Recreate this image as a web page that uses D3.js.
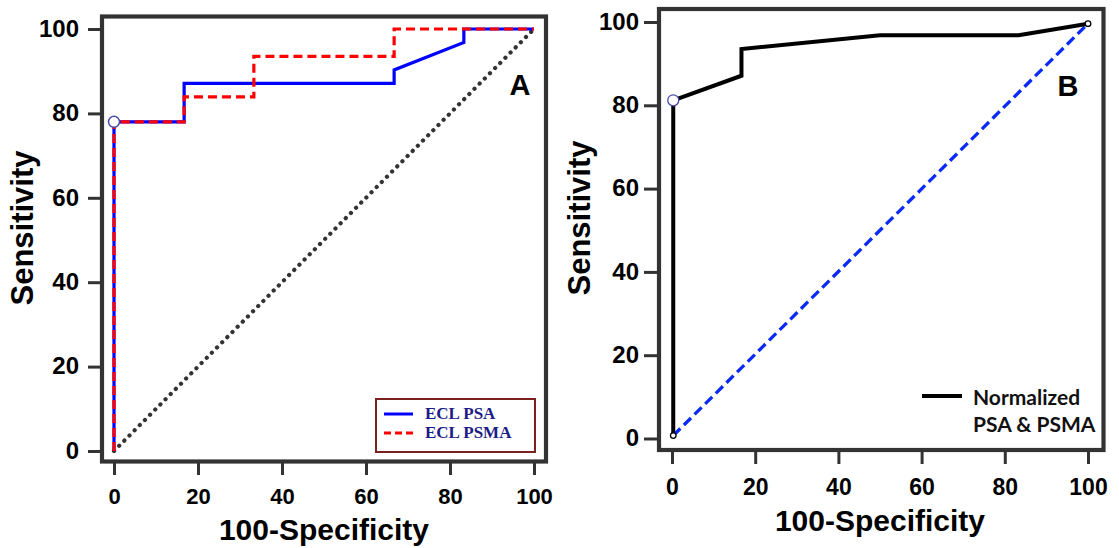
<!DOCTYPE html>
<html><head><meta charset="utf-8">
<script src="https://cdn.jsdelivr.net/npm/d3@7"></script>
<style>body{margin:0;background:#fff}svg{display:block}</style>
</head><body>
<svg id="c" width="1119" height="548"></svg>
<script>
// ---- data ----
const xTicks = [0, 20, 40, 60, 80, 100];
const yTicks = [0, 20, 40, 60, 80, 100];
const psaX  = [0, 0, 16.7, 16.7, 66.7, 66.7, 83.3, 83.3, 100];
const psaY  = [0, 78, 78, 87.1, 87.1, 90.3, 96.8, 100, 100];
const psmaX = [0, 0, 16.7, 16.7, 33.3, 33.3, 66.7, 66.7, 100];
const psmaY = [0, 78, 78, 83.9, 83.9, 93.5, 93.5, 100, 100];
const normX = [0.3, 0.3, 16.7, 16.7, 50, 83.3, 100];
const normY = [0.7, 81.2, 87.1, 93.5, 96.8, 96.8, 99.6];
const refAX = [0, 100], refAY = [0, 100];
const refBX = [0.3, 100], refBY = [0.7, 99.6];
const legendA = ["ECL PSA", "ECL PSMA"];
const legendB = ["Normalized", "PSA & PSMA"];
const xTitle = "100-Specificity", yTitle = "Sensitivity";

const svg = d3.select("#c");
const sans = "'Liberation Sans', Arial, sans-serif";
const pts = (xs, ys) => xs.map((x, i) => [x, ys[i]]);

function panel(o) {
  const x = d3.scaleLinear().domain([0, 100]).range(o.xr);
  const y = d3.scaleLinear().domain([0, 100]).range(o.yr);
  const line = d3.line().x(d => x(d[0])).y(d => y(d[1]));
  const g = svg.append("g");
  g.append("rect").attr("x", o.f[0]).attr("y", o.f[1])
    .attr("width", o.f[2] - o.f[0]).attr("height", o.f[3] - o.f[1])
    .attr("fill", "#fff").attr("stroke", "#333").attr("stroke-width", 4.2);
  const ax = g.append("g").attr("transform", `translate(0,${o.axY})`)
    .call(d3.axisBottom(x).tickValues(xTicks).tickSize(12).tickFormat(d3.format("d")));
  ax.selectAll("text").attr("y", o.xLabY).attr("dy", null)
    .style("font", `bold ${o.xfs}px ${sans}`).attr("fill", "#000");
  const ay = g.append("g").attr("transform", `translate(${o.axX},0)`)
    .call(d3.axisLeft(y).tickValues(yTicks).tickSize(o.ytl).tickFormat(d3.format("d")));
  ay.selectAll("text").attr("x", o.yLabX).attr("dy", "0.3em")
    .style("font", `bold ${o.yfs}px ${sans}`).attr("fill", "#000");
  [ax, ay].forEach(a => {
    a.select(".domain").remove();
    a.selectAll(".tick line").attr("stroke", "#333").attr("stroke-width", 3);
  });
  g.append("text").attr("x", (o.xr[0] + o.xr[1]) / 2).attr("y", o.xtY)
    .attr("text-anchor", "middle").style("font", `bold 30px ${sans}`).text(xTitle);
  g.append("text").attr("transform", `translate(${o.ytX},${o.ytC}) rotate(-90)`)
    .attr("text-anchor", "middle").style("font", `bold 31px ${sans}`).text(yTitle);
  g.append("text").attr("x", o.lab[0]).attr("y", o.lab[1]).attr("text-anchor", "middle")
    .style("font", `bold 29px ${sans}`).text(o.label);
  return { g, x, y, line };
}

// ---- Panel A ----
const A = panel({ xr: [114, 534], yr: [451, 29], f: [102, 16.5, 546, 461.5], axY: 463, xLabY: 41, xfs: 22,
  axX: 100, ytl: 12, yLabX: -21, yfs: 24, xtY: 540, ytX: 33, ytC: 228, lab: [520, 95], label: "A" });
A.g.append("path").datum(pts(refAX, refAY)).attr("d", A.line).attr("fill", "none")
  .attr("stroke", "#333").attr("stroke-width", 4.2).attr("stroke-linecap", "round").attr("stroke-dasharray", "0.1 7.2");
A.g.append("path").datum(pts(psaX, psaY)).attr("d", A.line).attr("fill", "none")
  .attr("stroke", "#0000ff").attr("stroke-width", 3.2);
A.g.append("path").datum(pts(psmaX, psmaY)).attr("d", A.line).attr("fill", "none")
  .attr("stroke", "#ff0000").attr("stroke-width", 3.2).attr("stroke-dasharray", "9 5");
A.g.append("circle").attr("cx", A.x(psaX[1])).attr("cy", A.y(psaY[1])).attr("r", 5.5)
  .attr("fill", "#fff").attr("stroke", "#4a4aa8").attr("stroke-width", 1.5);
A.g.append("rect").attr("x", 376).attr("y", 399).attr("width", 159).attr("height", 53)
  .attr("fill", "#fff").attr("stroke", "#7a2222").attr("stroke-width", 2);
legendA.forEach((t, i) => {
  const yy = 414 + i * 19;
  A.g.append("line").attr("x1", 384).attr("x2", 413).attr("y1", yy).attr("y2", yy)
    .attr("stroke", i ? "#ff0000" : "#0000ff").attr("stroke-width", 3)
    .attr("stroke-dasharray", i ? "7 4" : null);
  A.g.append("text").attr("x", 425).attr("y", yy + 5).attr("fill", "#1c1c86")
    .style("font", "bold 17px 'Liberation Serif', 'Times New Roman', serif").text(t);
});

// ---- Panel B ----
const B = panel({ xr: [672, 1088], yr: [438.5, 22], f: [659, 9, 1103.5, 450], axY: 452, xLabY: 43, xfs: 23,
  axX: 657, ytl: 13, yLabX: -18, yfs: 24, xtY: 531, ytX: 590, ytC: 218, lab: [1068, 96], label: "B" });
B.g.append("path").datum(pts(refBX, refBY)).attr("d", B.line).attr("fill", "none")
  .attr("stroke", "#0a2af5").attr("stroke-width", 3.3).attr("stroke-dasharray", "10 5");
B.g.append("path").datum(pts(normX, normY)).attr("d", B.line).attr("fill", "none")
  .attr("stroke", "#000").attr("stroke-width", 4).attr("stroke-linejoin", "miter");
[[normX[0], normY[0], 2.8, "#000"], [normX[normX.length - 1], normY[normY.length - 1], 2.8, "#000"], [normX[1], normY[1], 5.5, "#4a4aa8"]]
  .forEach(c => B.g.append("circle").attr("cx", B.x(c[0])).attr("cy", B.y(c[1])).attr("r", c[2])
    .attr("fill", "#fff").attr("stroke", c[3]).attr("stroke-width", 1.3));
B.g.append("line").attr("x1", 922).attr("x2", 962).attr("y1", 396).attr("y2", 396)
  .attr("stroke", "#000").attr("stroke-width", 4);
legendB.forEach((t, i) => {
  B.g.append("text").attr("x", 973).attr("y", 405 + i * 27)
    .style("font", "bold 21px Lato, 'Open Sans', sans-serif").attr("fill", "#111").text(t);
});
</script>
</body></html>
